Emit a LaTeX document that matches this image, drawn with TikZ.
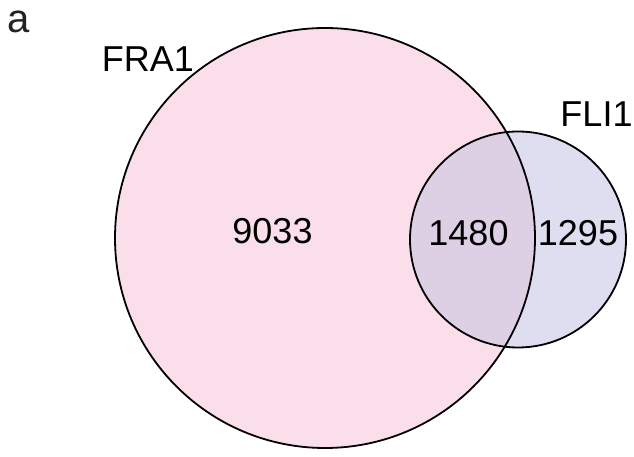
\documentclass[tikz,border=0pt]{standalone}
\usepackage{fontspec}
\setmainfont{Liberation Sans}
\definecolor{frafill}{RGB}{250,223,234}
\definecolor{flifill}{RGB}{222,222,240}
\definecolor{bothfill}{RGB}{221,208,228}
\definecolor{panelgray}{RGB}{34,34,34}
\begin{document}
\begin{tikzpicture}[x=1pt,y=1pt,
  lbl/.style={inner sep=0pt, anchor=base, font=\fontsize{36}{40}\selectfont},
  ring/.style={draw=black, line width=1.8pt}]
\useasboundingbox (0,0) rectangle (634,457);
\coordinate (cfra) at (325,219);
\coordinate (cfli) at (518,217.5);
\fill[frafill] (cfra) circle[radius=210];
\fill[flifill] (cfli) circle[radius=108];
\begin{scope}
  \clip (cfra) circle[radius=210];
  \fill[bothfill] (cfli) circle[radius=108];
\end{scope}
\draw[ring] (cfra) circle[radius=210];
\draw[ring] (cfli) circle[radius=108];
\node[lbl, text=panelgray, font=\fontsize{40}{44}\selectfont] (panel) at (19,424) {a};
\node[lbl] (fra) at (148,385) {FRA1};
\node[lbl] (fli) at (596.5,330) {FLI1};
\node[lbl] (only1) at (272.5,213) {9033};
\node[lbl] (both) at (468.5,211) {1480};
\node[lbl] (only2) at (578,211) {1295};
\end{tikzpicture}
\end{document}
